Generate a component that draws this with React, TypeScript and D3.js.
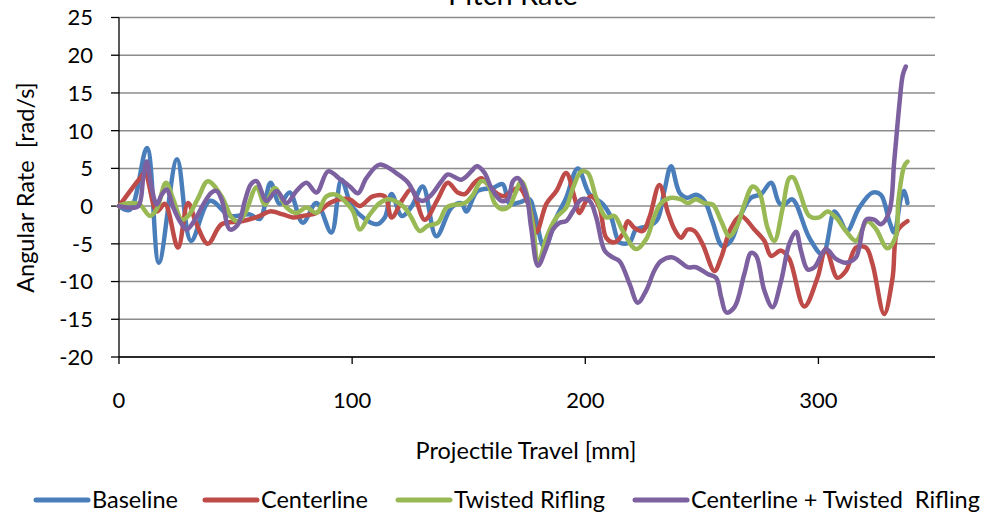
import React from "react";
import * as d3 from "d3";

// Projectile travel [mm] vs angular pitch rate [rad/s]
const baseline: [number, number][] = [
  [0, 0], [4.7, -0.5], [12.0, 7.7], [17.1, -7.5], [24.9, 6.2], [30.9, -4.6], [39.0, 0.7], [47.6, -1.3],
  [56.1, -1.1], [60.4, -1.7], [65.0, 3.1], [68.9, 0.3], [73.2, 1.8], [78.8, -2.2], [84.7, 0.4], [91.1, -3.5],
  [95.4, 3.5], [100.3, -0.2], [110.4, -2.4], [114.0, -1.5], [116.9, 1.6], [121.3, -1.3], [125.4, -0.1],
  [130.3, 2.6], [136.1, -4.0], [142.6, -0.2], [146.8, 0.4], [149.0, -0.7], [153.8, 2.0], [160.3, 2.4],
  [164.6, 2.9], [167.5, 0.3], [171.8, 0.5], [176.1, 0.9], [178.2, -0.9], [182.5, -5.5], [187.6, -1.5],
  [191.8, 1.1], [196.8, 5.0], [201.8, 1.6], [207.4, 0.3], [211.1, -1.5], [214.7, -4.8], [219.0, -4.8],
  [221.8, -3.1], [227.5, -2.6], [230.9, -1.8], [233.9, 2.0], [236.8, 5.3], [240.4, 1.8], [243.8, 1.1],
  [247.5, 1.5], [251.1, 0.7], [254.5, -2.0], [258.8, -5.3], [262.5, -4.6], [266.8, -1.1], [271.1, 1.1],
  [275.4, 1.6], [279.7, 3.1], [283.2, 0.4], [285.4, 0.2], [288.8, 0.9], [296.1, -4.2], [301.8, -6.4],
  [306.8, -0.7], [308.9, -1.5], [312.3, -3.3], [317.5, -0.2], [323.2, 1.8], [326.8, 1.5], [330.4, -2.0],
  [332.5, -3.5], [335.4, 1.1], [336.8, 2.0], [338.2, 0.4],
];

const centerline: [number, number][] = [
  [0, 0], [9.0, 3.7], [11.1, 4.4], [16.2, -0.7], [19.7, 0.3], [25.3, -5.5], [29.6, 0.4], [33.3, -2.4],
  [38.1, -5.0], [44.0, -2.4], [52.6, -2.0], [60.4, -1.3], [64.7, -0.7], [70.3, -1.1], [74.6, -1.5],
  [78.8, -1.3], [84.7, -0.9], [90.4, 0.4], [94.7, 0.9], [99.0, 0.9], [103.3, 0], [108.8, 1.3], [114.0, 1.3],
  [116.9, -1.5], [121.7, 0.9], [125.4, 2.2], [131.1, -1.8], [136.7, 0.9], [141.0, 3.1], [145.3, 1.8],
  [148.3, 1.6], [152.5, 3.1], [155.4, 3.7], [158.1, 2.9], [162.4, 1.6], [165.4, 1.3], [168.3, 2.0],
  [171.8, 2.4], [176.1, -0.2], [179.0, -3.5], [183.3, 0.3], [187.6, 2.0], [191.8, 4.4], [195.4, 1.1],
  [197.5, -0.9], [200.4, 0.7], [202.6, 1.3], [206.1, -0.2], [209.0, -4.2], [212.5, -4.8], [216.1, -3.7],
  [218.2, -2.0], [221.1, -2.9], [224.7, -3.3], [227.5, -1.5], [231.8, 2.8], [235.3, -0.7], [238.3, -3.1],
  [241.1, -4.2], [243.9, -3.1], [246.8, -3.3], [250.4, -5.1], [255.4, -8.6], [258.3, -6.8], [262.5, -2.9],
  [266.8, -1.3], [272.5, -3.1], [276.8, -4.6], [279.7, -6.6], [284.0, -5.9], [287.5, -7.0], [293.9, -13.3],
  [299.6, -9.5], [303.2, -5.7], [308.1, -9.5], [311.8, -8.6], [316.1, -5.5], [320.4, -5.5], [323.2, -7.7],
  [328.2, -14.3], [331.8, -9.5], [333.9, -3.3], [338.2, -2.0],
];

const twistedRifling: [number, number][] = [
  [0, 0], [1.2, 0.2], [6.0, 0.4], [9.0, 0.2], [13.3, -1.3], [16.2, -0.4], [20.1, 3.1], [23.3, 0.9],
  [26.9, -1.8], [29.7, -1.3], [34.0, 1.1], [38.1, 3.3], [44.0, 1.3], [48.3, -1.5], [51.1, -2.0], [54.0, -1.0],
  [59.0, 2.5], [62.6, 0.2], [66.8, 2.4], [71.9, -0.2], [76.1, -0.9], [80.4, -0.2], [84.7, -0.9], [89.0, 1.3],
  [93.3, 1.5], [97.6, 0.4], [100.4, -0.7], [103.3, -3.1], [107.6, -1.1], [111.8, 0.4], [115.3, 0.9],
  [118.3, 0.7], [122.5, -0.2], [125.4, -1.5], [129.0, -3.3], [132.5, -2.6], [136.8, -2.2], [140.4, -0.2],
  [144.0, 0.2], [148.3, 0.4], [151.8, 1.5], [155.4, 3.3], [158.2, 2.9], [161.1, 0.4], [164.0, -0.4],
  [167.5, 0], [169.7, 1.5], [172.7, 3.3], [177.5, -2.4], [179.7, -7.7], [183.3, -4.2], [187.6, -1.5],
  [191.8, -0.2], [194.7, 2.4], [198.3, 4.6], [201.1, 4.4], [204.7, 1.1], [209.0, -1.5], [212.5, -1.3],
  [216.1, -3.3], [221.8, -5.7], [226.1, -4.4], [229.7, -1.3], [232.5, 0.4], [236.8, 1.1], [241.1, 0.9],
  [243.9, 0.4], [247.5, 0.9], [251.1, 0.4], [254.7, 0.2], [258.3, -2.0], [261.8, -4.0], [265.4, -2.4],
  [268.2, 0.2], [271.8, 2.6], [274.7, 1.8], [278.2, -2.9], [281.1, -4.6], [284.7, -0.2], [287.5, 3.7],
  [289.2, 3.8], [291.8, 2.0], [296.1, -1.3], [300.4, -1.5], [303.9, -0.7], [307.5, -1.5], [311.8, -3.3],
  [316.1, -4.6], [320.9, -2.0], [324.6, -3.0], [329.6, -5.6], [333.2, -4.0], [334.3, 0.7], [336.8, 5.3],
  [338.2, 5.9],
];

const centerlineTwisted: [number, number][] = [
  [0, 0], [4.0, -0.2], [8.3, 0], [10.4, 3.7], [11.9, 5.9], [14.0, 2.4], [16.2, 0.2], [18.3, 1.5],
  [20.4, 2.2], [23.3, -0.2], [26.1, -2.0], [29.0, -3.1], [32.6, -1.8], [36.1, 0.2], [39.7, 1.8], [41.9, 2.0],
  [44.0, 0.9], [47.6, -3.1], [51.1, -2.4], [54.0, 0.7], [56.6, 2.9], [59.0, 3.3], [63.3, 0.7], [67.6, 2.0],
  [71.9, 0.4], [76.1, 2.0], [80.4, 3.1], [84.7, 1.8], [89.7, 4.6], [95.1, 3.5], [99.0, 2.6], [102.5, 1.7],
  [106.1, 3.7], [111.8, 5.5], [119.7, 4.2], [124.0, 3.1], [128.3, 0.9], [130.4, 0.7], [134.0, 1.5],
  [138.3, 3.3], [141.1, 4.2], [146.8, 3.5], [151.1, 4.6], [153.4, 5.3], [156.8, 4.4], [159.7, 2.4],
  [164.0, 0.7], [166.8, 0.9], [169.0, 3.3], [171.1, 3.7], [174.7, 1.5], [176.8, -2.9], [179.7, -7.9],
  [183.3, -5.5], [186.1, -3.1], [189.0, -2.2], [191.8, -2.0], [194.7, -0.7], [198.3, 0.9], [201.8, 0.7],
  [204.7, -1.5], [208.3, -5.9], [211.8, -6.8], [214.7, -7.3], [219.0, -10.3], [222.5, -12.8], [226.1, -11.2],
  [229.7, -8.5], [232.5, -7.3], [237.5, -6.8], [241.1, -7.5], [243.9, -8.1], [247.5, -8.1], [252.5, -9.0],
  [256.1, -9.5], [258.3, -12.1], [260.5, -14.1], [264.0, -13.4], [268.2, -9.0], [271.1, -6.2], [273.3, -6.6],
  [276.8, -11.2], [280.3, -13.4], [284.0, -9.9], [287.5, -5.0], [290.4, -3.4], [292.5, -5.9], [295.4, -8.4],
  [298.3, -8.1], [303.2, -5.7], [307.5, -7.0], [311.8, -7.5], [316.1, -6.8], [320.4, -1.8], [323.9, -1.8],
  [326.8, -2.4], [330.4, -0.7], [332.5, 5.9], [334.7, 13.4], [336.2, 17.4], [337.5, 18.5],
];

const seriesNames = ["Baseline", "Centerline", "Twisted Rifling", "Centerline + Twisted  Rifling"];
const seriesColors = ["#4a7ebb", "#be4b48", "#98b954", "#7d60a0"];
const seriesData = [baseline, centerline, twistedRifling, centerlineTwisted];

const yTicks = [25, 20, 15, 10, 5, 0, -5, -10, -15, -20];
const xTicks = [0, 100, 200, 300];

const title = "Pitch Rate";
const xTitle = "Projectile Travel [mm]";
const yTitle = "Angular Rate  [rad/s]";

const W = 984;
const H = 515;
const FONT = "Lato, 'Noto Sans', sans-serif";

export default function App() {
  const x = d3.scaleLinear().domain([0, 350]).range([119, 935]);
  const y = d3.scaleLinear().domain([-20, 25]).range([357, 17.5]);
  const line = d3
    .line<[number, number]>()
    .x((d) => x(d[0]))
    .y((d) => y(d[1]))
    .curve(d3.curveCatmullRom.alpha(0.5));

  const legendX = [34, 203, 396, 633];

  return (
    <svg
      width={W}
      height={H}
      style={{ position: "absolute", left: 0, top: 0, background: "#fff" }}
      fontFamily={FONT}
    >
      <rect x={0} y={0} width={W} height={H} fill="#fff" />
      {/* gridlines */}
      {yTicks.map((t) => (
        <line key={"g" + t} x1={x(0)} x2={x(350)} y1={y(t)} y2={y(t)} stroke="#8c8c8c" strokeWidth={1.5} />
      ))}
      {/* y axis */}
      <line x1={x(0)} x2={x(0)} y1={y(25)} y2={y(-20)} stroke="#000" strokeWidth={1.3} />
      {yTicks.map((t) => (
        <g key={"yt" + t}>
          <line x1={x(0) - 8} x2={x(0)} y1={y(t)} y2={y(t)} stroke="#000" strokeWidth={1.3} />
          <text x={93} y={y(t)} dy="0.36em" textAnchor="end" fontSize={22} fill="#000">
            {t}
          </text>
        </g>
      ))}
      {/* x axis */}
      <line x1={x(0)} x2={x(350)} y1={y(-20)} y2={y(-20)} stroke="#000" strokeWidth={1.3} />
      {xTicks.map((t) => (
        <g key={"xt" + t}>
          <line x1={x(t)} x2={x(t)} y1={y(-20)} y2={y(-20) + 7} stroke="#000" strokeWidth={1.3} />
          <text x={x(t)} y={408} textAnchor="middle" fontSize={22} fill="#000">
            {t}
          </text>
        </g>
      ))}
      {/* series */}
      {seriesData.map((s, i) => (
        <path
          key={seriesNames[i]}
          d={line(s) || ""}
          fill="none"
          stroke={seriesColors[i]}
          strokeWidth={4.5}
          strokeLinejoin="round"
          strokeLinecap="round"
        />
      ))}
      {/* titles */}
      <text x={513} y={5} textAnchor="middle" fontSize={29} fill="#000">
        {title}
      </text>
      <text x={526} y={459} textAnchor="middle" fontSize={23.5} fill="#000">
        {xTitle}
      </text>
      <text
        transform={`translate(33.5,187.5) rotate(-90)`}
        textAnchor="middle"
        fontSize={23.5}
        fill="#000"
        style={{ whiteSpace: "pre" }}
      >
        {yTitle}
      </text>
      {/* legend */}
      {seriesNames.map((n, i) => (
        <g key={"lg" + n}>
          <line
            x1={legendX[i] + 2}
            x2={legendX[i] + 54}
            y1={500}
            y2={500}
            stroke={seriesColors[i]}
            strokeWidth={5}
            strokeLinecap="round"
          />
          <text x={legendX[i] + 58} y={508} fontSize={23.5} fill="#000" style={{ whiteSpace: "pre" }}>
            {n}
          </text>
        </g>
      ))}
    </svg>
  );
}
